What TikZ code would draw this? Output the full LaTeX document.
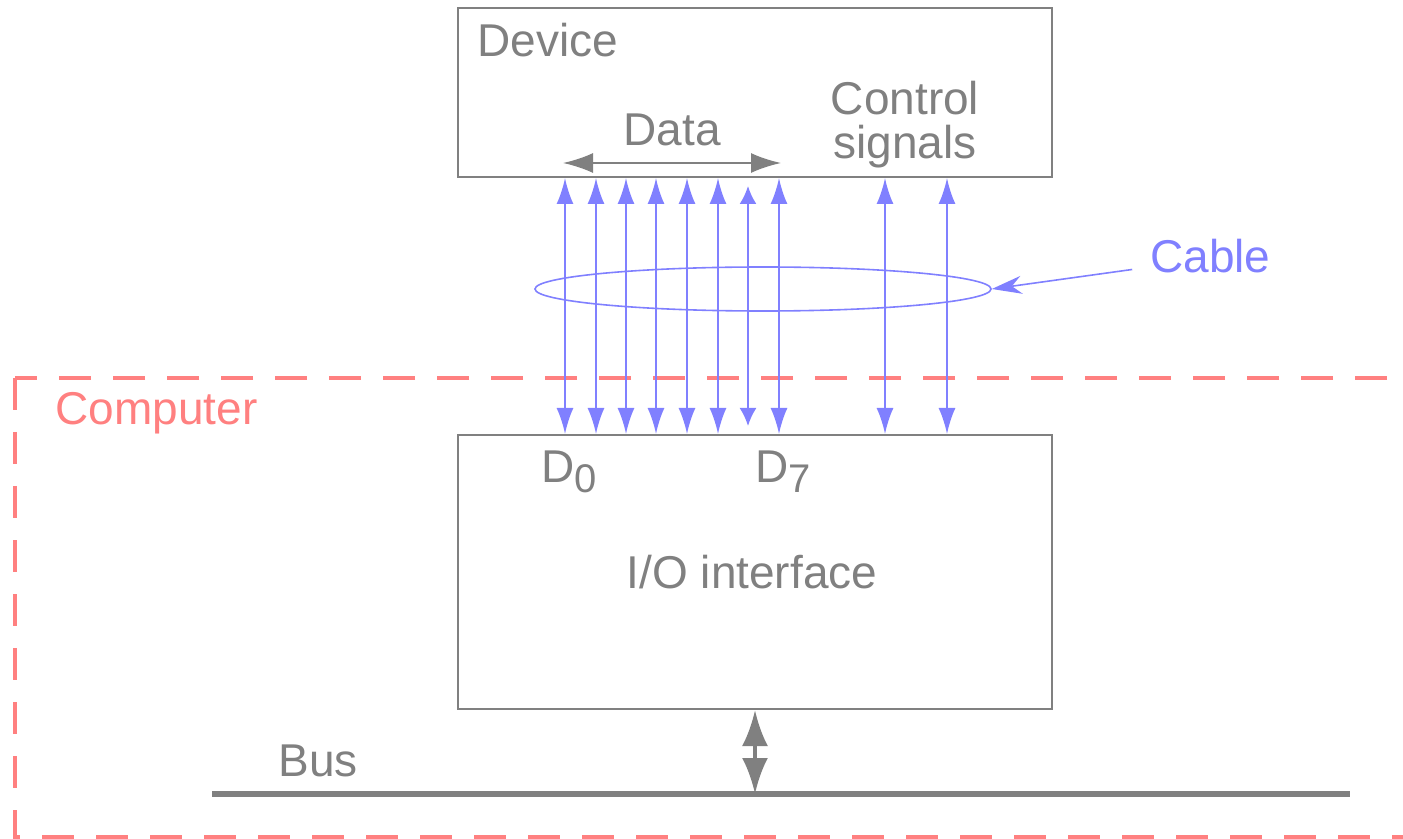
\documentclass[tikz,border=0pt]{standalone}
\usepackage{fontspec}
\setmainfont{Liberation Sans}
\usetikzlibrary{arrows.meta,shapes.geometric}
\definecolor{cgray}{RGB}{128,128,128}
\definecolor{cblue}{RGB}{128,128,255}
\definecolor{cred}{RGB}{255,128,128}
\newcommand\lowidx[1]{\raisebox{-5pt}{\fontsize{20}{20}\selectfont #1}}

\begin{document}
\begin{tikzpicture}[x=0.5pt,y=-0.5pt,
	lbl/.style={text=cgray, inner sep=0pt, font=\fontsize{23}{22}\selectfont},
	box/.style={draw=cgray, line width=1pt, minimum width=297pt, inner sep=0pt},
	wire/.style={cblue, line width=1pt, {Latex[length=#1,width=8.5pt]}-{Latex[length=#1,width=8.5pt]}},
	wire/.default=13pt]
	\useasboundingbox (0,0) rectangle (1403,839);
	\draw[cred, line width=2pt, dash pattern=on 16pt off 11pt] (15,378) rectangle (1430,837);
	\node[lbl, text=cred, anchor=base west] (comp) at (55,425) {Computer};
	
	\node[box, minimum height=84.5pt] (dev) at (755,92.5) {};
	\node[box, minimum height=137pt] (io) at (755,572) {};
	\node[lbl, anchor=base west] (devlbl) at (477,57) {Device};
	\node[lbl, anchor=base] (data) at (672,146) {Data};
	\node[lbl, align=center, anchor=north] (ctl) at (905,81) {Control\\signals};
	\node[lbl, anchor=base west] (d0) at (541,483) {D\lowidx{0}};
	\node[lbl, anchor=base west] (d7) at (755,483) {D\lowidx{7}};
	\node[lbl, anchor=base] (iolbl) at (752,588) {I/O interface};
	
	\coordinate (dL) at (563,163);
	\coordinate (dR) at (781,163);
	\draw[cgray, line width=1pt, {Latex[length=15pt,width=10pt]}-{Latex[length=15pt,width=10pt]}] (dL) -- (dR);
	
	\foreach \x [count=\i] in {565,596,626,656,687,718,779,885,947} {
		\coordinate (w\i) at (\x,0);
		\draw[wire] (dev.south -| w\i) -- (io.north -| w\i);
	}
	\coordinate (w10) at (748,0);
	\draw[wire=9pt, shorten <=4pt, shorten >=4pt] (dev.south -| w10) -- (io.north -| w10);
	
	\node[draw=cblue, line width=0.8pt, ellipse, minimum width=228pt, minimum height=22pt, inner sep=0pt] (cable) at (763,289) {};
	\node[lbl, text=cblue, anchor=base west] (cablelbl) at (1150,273) {Cable};
	\draw[cblue, line width=0.8pt, shorten <=9pt, -{Stealth[length=15pt,width=9pt]}] ([yshift=3pt]cablelbl.base west) -- (cable.east);
	
	\coordinate (busL) at (212,794);
	\coordinate (busR) at (1350,794);
	\draw[cgray, line width=3pt] (busL) -- (busR);
	\node[lbl, anchor=base west] (buslbl) at (278,776) {Bus};
	\draw[cgray, line width=2pt, {Latex[length=18pt,width=13pt]}-{Latex[length=18pt,width=13pt]}] (io.south) -- (io.south |- busL);
\end{tikzpicture}
\end{document}
